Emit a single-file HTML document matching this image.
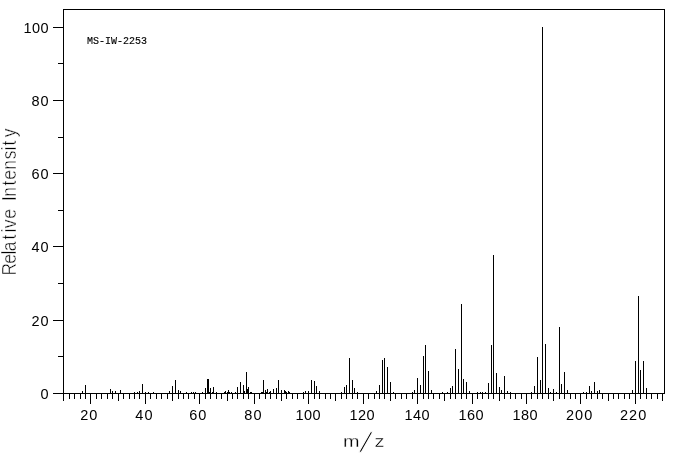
<!DOCTYPE html>
<html lang="en"><head><meta charset="utf-8"><title>Mass spectrum MS-IW-2253</title>
<style>
html,body{margin:0;padding:0;background:#fff;}
body{width:676px;height:455px;position:relative;overflow:hidden;font-family:"Liberation Sans",sans-serif;color:#000;-webkit-text-stroke:0px #fff;}
svg{position:absolute;left:0;top:0;display:block;}
svg rect{fill:#000;shape-rendering:crispEdges;}
svg text.ytitle{font-family:"Liberation Sans",sans-serif;font-size:20px;fill:#000;stroke:#fff;stroke-width:0.5px;}
.yl{letter-spacing:1px;position:absolute;right:626.4px;width:40px;text-align:right;font-size:14.5px;line-height:16px;height:16px;white-space:nowrap;}
.xl{letter-spacing:1px;position:absolute;top:407px;width:40px;text-align:left;font-size:14.5px;line-height:16px;height:16px;white-space:nowrap;}
.xt{position:absolute;left:343.0px;top:424.4px;transform:scaleX(1.14);transform-origin:0 0;white-space:nowrap;font-size:17.4px;line-height:1;-webkit-text-stroke:0.3px #fff;}
.xt span{display:inline-block;position:relative;line-height:1;}
.xs{font-size:28px;margin-left:1.4px;margin-right:3.9px;top:4.8px;-webkit-text-stroke:1.05px #fff;transform:skewX(-13deg);transform-origin:50% 50%;}
.id{-webkit-text-stroke:0.15px #000;position:absolute;left:87px;top:35.7px;font-family:"Liberation Mono",monospace;font-size:10px;line-height:12px;white-space:nowrap;letter-spacing:0px;}
</style></head>
<body>
<svg width="676" height="455" viewBox="0 0 676 455">
<rect x="63" y="9" width="602" height="1"/>
<rect x="63" y="9" width="1" height="385"/>
<rect x="664" y="9" width="1" height="385"/>
<rect x="60" y="393" width="605" height="1"/>
<rect x="63" y="393" width="1" height="8"/>
<rect x="69" y="393" width="1" height="6"/>
<rect x="74" y="393" width="1" height="6"/>
<rect x="80" y="393" width="1" height="6"/>
<rect x="85" y="393" width="1" height="6"/>
<rect x="90" y="393" width="1" height="11"/>
<rect x="96" y="393" width="1" height="6"/>
<rect x="101" y="393" width="1" height="6"/>
<rect x="107" y="393" width="1" height="6"/>
<rect x="112" y="393" width="1" height="6"/>
<rect x="118" y="393" width="1" height="8"/>
<rect x="123" y="393" width="1" height="6"/>
<rect x="129" y="393" width="1" height="6"/>
<rect x="134" y="393" width="1" height="6"/>
<rect x="139" y="393" width="1" height="6"/>
<rect x="145" y="393" width="1" height="11"/>
<rect x="150" y="393" width="1" height="6"/>
<rect x="156" y="393" width="1" height="6"/>
<rect x="161" y="393" width="1" height="6"/>
<rect x="167" y="393" width="1" height="6"/>
<rect x="172" y="393" width="1" height="8"/>
<rect x="178" y="393" width="1" height="6"/>
<rect x="183" y="393" width="1" height="6"/>
<rect x="188" y="393" width="1" height="6"/>
<rect x="194" y="393" width="1" height="6"/>
<rect x="199" y="393" width="1" height="11"/>
<rect x="205" y="393" width="1" height="6"/>
<rect x="210" y="393" width="1" height="6"/>
<rect x="216" y="393" width="1" height="6"/>
<rect x="221" y="393" width="1" height="6"/>
<rect x="227" y="393" width="1" height="8"/>
<rect x="232" y="393" width="1" height="6"/>
<rect x="237" y="393" width="1" height="6"/>
<rect x="243" y="393" width="1" height="6"/>
<rect x="248" y="393" width="1" height="6"/>
<rect x="254" y="393" width="1" height="11"/>
<rect x="259" y="393" width="1" height="6"/>
<rect x="265" y="393" width="1" height="6"/>
<rect x="270" y="393" width="1" height="6"/>
<rect x="276" y="393" width="1" height="6"/>
<rect x="281" y="393" width="1" height="8"/>
<rect x="286" y="393" width="1" height="6"/>
<rect x="292" y="393" width="1" height="6"/>
<rect x="297" y="393" width="1" height="6"/>
<rect x="303" y="393" width="1" height="6"/>
<rect x="308" y="393" width="1" height="11"/>
<rect x="314" y="393" width="1" height="6"/>
<rect x="319" y="393" width="1" height="6"/>
<rect x="325" y="393" width="1" height="6"/>
<rect x="330" y="393" width="1" height="6"/>
<rect x="335" y="393" width="1" height="8"/>
<rect x="341" y="393" width="1" height="6"/>
<rect x="346" y="393" width="1" height="6"/>
<rect x="352" y="393" width="1" height="6"/>
<rect x="357" y="393" width="1" height="6"/>
<rect x="363" y="393" width="1" height="11"/>
<rect x="368" y="393" width="1" height="6"/>
<rect x="374" y="393" width="1" height="6"/>
<rect x="379" y="393" width="1" height="6"/>
<rect x="384" y="393" width="1" height="6"/>
<rect x="390" y="393" width="1" height="8"/>
<rect x="395" y="393" width="1" height="6"/>
<rect x="401" y="393" width="1" height="6"/>
<rect x="406" y="393" width="1" height="6"/>
<rect x="412" y="393" width="1" height="6"/>
<rect x="417" y="393" width="1" height="11"/>
<rect x="423" y="393" width="1" height="6"/>
<rect x="428" y="393" width="1" height="6"/>
<rect x="433" y="393" width="1" height="6"/>
<rect x="439" y="393" width="1" height="6"/>
<rect x="444" y="393" width="1" height="8"/>
<rect x="450" y="393" width="1" height="6"/>
<rect x="455" y="393" width="1" height="6"/>
<rect x="461" y="393" width="1" height="6"/>
<rect x="466" y="393" width="1" height="6"/>
<rect x="472" y="393" width="1" height="11"/>
<rect x="477" y="393" width="1" height="6"/>
<rect x="482" y="393" width="1" height="6"/>
<rect x="488" y="393" width="1" height="6"/>
<rect x="493" y="393" width="1" height="6"/>
<rect x="499" y="393" width="1" height="8"/>
<rect x="504" y="393" width="1" height="6"/>
<rect x="510" y="393" width="1" height="6"/>
<rect x="515" y="393" width="1" height="6"/>
<rect x="521" y="393" width="1" height="6"/>
<rect x="526" y="393" width="1" height="11"/>
<rect x="531" y="393" width="1" height="6"/>
<rect x="537" y="393" width="1" height="6"/>
<rect x="542" y="393" width="1" height="6"/>
<rect x="548" y="393" width="1" height="6"/>
<rect x="553" y="393" width="1" height="8"/>
<rect x="559" y="393" width="1" height="6"/>
<rect x="564" y="393" width="1" height="6"/>
<rect x="570" y="393" width="1" height="6"/>
<rect x="575" y="393" width="1" height="6"/>
<rect x="580" y="393" width="1" height="11"/>
<rect x="586" y="393" width="1" height="6"/>
<rect x="591" y="393" width="1" height="6"/>
<rect x="597" y="393" width="1" height="6"/>
<rect x="602" y="393" width="1" height="6"/>
<rect x="608" y="393" width="1" height="8"/>
<rect x="613" y="393" width="1" height="6"/>
<rect x="618" y="393" width="1" height="6"/>
<rect x="624" y="393" width="1" height="6"/>
<rect x="629" y="393" width="1" height="6"/>
<rect x="635" y="393" width="1" height="11"/>
<rect x="640" y="393" width="1" height="6"/>
<rect x="646" y="393" width="1" height="6"/>
<rect x="651" y="393" width="1" height="6"/>
<rect x="657" y="393" width="1" height="6"/>
<rect x="662" y="393" width="1" height="8"/>
<rect x="53" y="393" width="10" height="1"/>
<rect x="58" y="356" width="5" height="1"/>
<rect x="53" y="320" width="10" height="1"/>
<rect x="58" y="283" width="5" height="1"/>
<rect x="53" y="246" width="10" height="1"/>
<rect x="58" y="210" width="5" height="1"/>
<rect x="53" y="173" width="10" height="1"/>
<rect x="58" y="137" width="5" height="1"/>
<rect x="53" y="100" width="10" height="1"/>
<rect x="58" y="63" width="5" height="1"/>
<rect x="53" y="27" width="10" height="1"/>
<rect x="82" y="391" width="1" height="2"/>
<rect x="85" y="385" width="1" height="8"/>
<rect x="110" y="389" width="1" height="4"/>
<rect x="112" y="391" width="1" height="2"/>
<rect x="115" y="391" width="1" height="2"/>
<rect x="120" y="390" width="1" height="3"/>
<rect x="134" y="392" width="1" height="1"/>
<rect x="137" y="392" width="1" height="1"/>
<rect x="139" y="391" width="1" height="2"/>
<rect x="142" y="384" width="1" height="9"/>
<rect x="145" y="392" width="1" height="1"/>
<rect x="148" y="392" width="1" height="1"/>
<rect x="153" y="392" width="1" height="1"/>
<rect x="169" y="391" width="1" height="2"/>
<rect x="172" y="386" width="1" height="7"/>
<rect x="175" y="380" width="1" height="13"/>
<rect x="178" y="390" width="1" height="3"/>
<rect x="180" y="391" width="1" height="2"/>
<rect x="186" y="392" width="1" height="1"/>
<rect x="191" y="392" width="1" height="1"/>
<rect x="193" y="392" width="1" height="1"/>
<rect x="195" y="392" width="1" height="1"/>
<rect x="202" y="392" width="1" height="1"/>
<rect x="205" y="388" width="1" height="5"/>
<rect x="207" y="379" width="1" height="14"/>
<rect x="208" y="379" width="1" height="14"/>
<rect x="209" y="392" width="1" height="1"/>
<rect x="210" y="388" width="1" height="5"/>
<rect x="212" y="392" width="1" height="1"/>
<rect x="213" y="387" width="1" height="6"/>
<rect x="216" y="392" width="1" height="1"/>
<rect x="224" y="392" width="1" height="1"/>
<rect x="225" y="391" width="1" height="2"/>
<rect x="227" y="392" width="1" height="1"/>
<rect x="228" y="390" width="1" height="3"/>
<rect x="229" y="392" width="1" height="1"/>
<rect x="231" y="392" width="1" height="1"/>
<rect x="235" y="392" width="1" height="1"/>
<rect x="237" y="387" width="1" height="6"/>
<rect x="240" y="382" width="1" height="11"/>
<rect x="243" y="385" width="1" height="8"/>
<rect x="244" y="391" width="1" height="2"/>
<rect x="246" y="372" width="1" height="21"/>
<rect x="247" y="389" width="1" height="4"/>
<rect x="248" y="387" width="1" height="6"/>
<rect x="250" y="392" width="1" height="1"/>
<rect x="251" y="392" width="1" height="1"/>
<rect x="261" y="392" width="1" height="1"/>
<rect x="262" y="392" width="1" height="1"/>
<rect x="263" y="380" width="1" height="13"/>
<rect x="265" y="390" width="1" height="3"/>
<rect x="266" y="392" width="1" height="1"/>
<rect x="267" y="389" width="1" height="4"/>
<rect x="269" y="392" width="1" height="1"/>
<rect x="270" y="391" width="1" height="2"/>
<rect x="273" y="389" width="1" height="4"/>
<rect x="276" y="388" width="1" height="5"/>
<rect x="278" y="380" width="1" height="13"/>
<rect x="281" y="390" width="1" height="3"/>
<rect x="284" y="390" width="1" height="3"/>
<rect x="285" y="391" width="1" height="2"/>
<rect x="286" y="392" width="1" height="1"/>
<rect x="288" y="391" width="1" height="2"/>
<rect x="289" y="392" width="1" height="1"/>
<rect x="303" y="392" width="1" height="1"/>
<rect x="305" y="391" width="1" height="2"/>
<rect x="308" y="391" width="1" height="2"/>
<rect x="311" y="380" width="1" height="13"/>
<rect x="314" y="381" width="1" height="12"/>
<rect x="316" y="386" width="1" height="7"/>
<rect x="319" y="391" width="1" height="2"/>
<rect x="341" y="392" width="1" height="1"/>
<rect x="344" y="387" width="1" height="6"/>
<rect x="346" y="385" width="1" height="8"/>
<rect x="349" y="358" width="1" height="35"/>
<rect x="352" y="380" width="1" height="13"/>
<rect x="354" y="388" width="1" height="5"/>
<rect x="357" y="392" width="1" height="1"/>
<rect x="376" y="391" width="1" height="2"/>
<rect x="379" y="385" width="1" height="8"/>
<rect x="382" y="360" width="1" height="33"/>
<rect x="384" y="358" width="1" height="35"/>
<rect x="387" y="367" width="1" height="26"/>
<rect x="390" y="382" width="1" height="11"/>
<rect x="393" y="392" width="1" height="1"/>
<rect x="412" y="392" width="1" height="1"/>
<rect x="414" y="390" width="1" height="3"/>
<rect x="417" y="378" width="1" height="15"/>
<rect x="420" y="385" width="1" height="8"/>
<rect x="423" y="356" width="1" height="37"/>
<rect x="425" y="345" width="1" height="48"/>
<rect x="428" y="371" width="1" height="22"/>
<rect x="431" y="390" width="1" height="3"/>
<rect x="442" y="392" width="1" height="1"/>
<rect x="447" y="392" width="1" height="1"/>
<rect x="450" y="388" width="1" height="5"/>
<rect x="452" y="386" width="1" height="7"/>
<rect x="455" y="349" width="1" height="44"/>
<rect x="458" y="369" width="1" height="24"/>
<rect x="461" y="304" width="1" height="89"/>
<rect x="463" y="379" width="1" height="14"/>
<rect x="466" y="382" width="1" height="11"/>
<rect x="469" y="391" width="1" height="2"/>
<rect x="477" y="392" width="1" height="1"/>
<rect x="480" y="392" width="1" height="1"/>
<rect x="482" y="392" width="1" height="1"/>
<rect x="485" y="392" width="1" height="1"/>
<rect x="488" y="383" width="1" height="10"/>
<rect x="491" y="345" width="1" height="48"/>
<rect x="493" y="255" width="1" height="138"/>
<rect x="496" y="373" width="1" height="20"/>
<rect x="499" y="387" width="1" height="6"/>
<rect x="501" y="390" width="1" height="3"/>
<rect x="504" y="376" width="1" height="17"/>
<rect x="507" y="391" width="1" height="2"/>
<rect x="510" y="392" width="1" height="1"/>
<rect x="531" y="392" width="1" height="1"/>
<rect x="534" y="386" width="1" height="7"/>
<rect x="537" y="357" width="1" height="36"/>
<rect x="540" y="380" width="1" height="13"/>
<rect x="542" y="27" width="1" height="366"/>
<rect x="545" y="344" width="1" height="49"/>
<rect x="548" y="388" width="1" height="5"/>
<rect x="550" y="392" width="1" height="1"/>
<rect x="553" y="389" width="1" height="4"/>
<rect x="556" y="392" width="1" height="1"/>
<rect x="559" y="327" width="1" height="66"/>
<rect x="561" y="384" width="1" height="9"/>
<rect x="564" y="372" width="1" height="21"/>
<rect x="567" y="390" width="1" height="3"/>
<rect x="583" y="392" width="1" height="1"/>
<rect x="586" y="392" width="1" height="1"/>
<rect x="589" y="386" width="1" height="7"/>
<rect x="591" y="391" width="1" height="2"/>
<rect x="594" y="382" width="1" height="11"/>
<rect x="597" y="391" width="1" height="2"/>
<rect x="599" y="390" width="1" height="3"/>
<rect x="632" y="390" width="1" height="3"/>
<rect x="635" y="361" width="1" height="32"/>
<rect x="638" y="296" width="1" height="97"/>
<rect x="640" y="370" width="1" height="23"/>
<rect x="643" y="361" width="1" height="32"/>
<rect x="646" y="388" width="1" height="5"/>
<text class="ytitle" transform="translate(16,0) rotate(-90) scale(0.87,1)" x="-316.77 -303.24 -292.46 -288.74 -275.27 -267.16 -262.47 -251.52 -236.78 -230.94 -226.27 -213.2 -206.69 -195.23 -183.08 -172.91 -167.22 -157.88" y="0">Relative Intensity</text>
</svg>
<div class="yl" style="top:386px">0</div>
<div class="yl" style="top:313px">20</div>
<div class="yl" style="top:239px">40</div>
<div class="yl" style="top:166px">60</div>
<div class="yl" style="top:93px">80</div>
<div class="yl" style="top:20px;letter-spacing:0.4px;right:627px">100</div>
<div class="xl" style="left:80.27px">20</div>
<div class="xl" style="left:135.37px">40</div>
<div class="xl" style="left:189.31px">60</div>
<div class="xl" style="left:244.33px">80</div>
<div class="xl" style="left:295.6px;letter-spacing:0.4px">100</div>
<div class="xl" style="left:349.6px;letter-spacing:0.4px">120</div>
<div class="xl" style="left:404.6px;letter-spacing:0.4px">140</div>
<div class="xl" style="left:458.6px;letter-spacing:0.4px">160</div>
<div class="xl" style="left:512.6px;letter-spacing:0.4px">180</div>
<div class="xl" style="left:566.06px">200</div>
<div class="xl" style="left:620.06px">220</div>
<div class="xt">m<span class="xs">/</span>z</div>
<div class="id">MS-IW-2253</div>
</body></html>
